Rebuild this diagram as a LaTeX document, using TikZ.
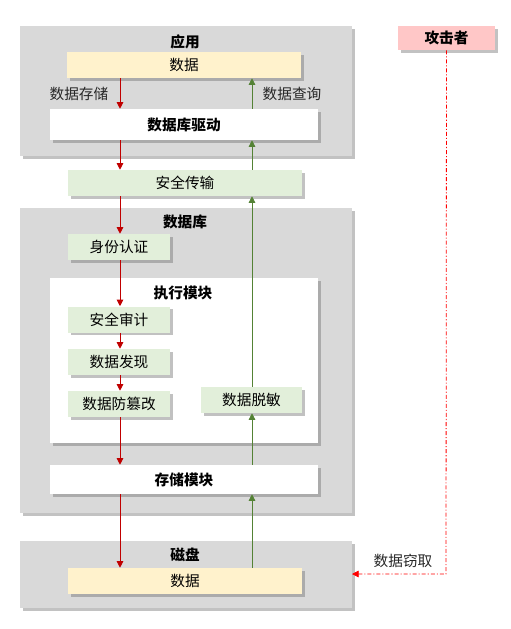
\documentclass[tikz,border=0pt]{standalone}
\usepackage{fontspec}
\setmainfont{Noto Sans CJK SC}
\usetikzlibrary{arrows.meta,shadows}
\definecolor{grp}{HTML}{D9D9D9}
\definecolor{yel}{HTML}{FFF2CC}
\definecolor{grn}{HTML}{E2EFDA}
\definecolor{pnk}{HTML}{FFC7C7}
\definecolor{redln}{HTML}{C00000}
\definecolor{grnln}{HTML}{548235}
\tikzset{
  x=0.75pt, y=-0.75pt,
  shd/.style={drop shadow={shadow xshift=2pt,shadow yshift=-2pt,opacity=0.4,fill=black!60}},
  grpbox/.style={fill=grp,draw=none,shd},
  blk/.style={shd,draw=none,font=\fontsize{11}{13}\selectfont},
  ttl/.style={font=\fontsize{11}{13}\selectfont\bfseries},
  lbl/.style={font=\fontsize{11}{13}\selectfont,text=black!85},
  rarr/.style={draw=redln,line width=0.7pt,-{Triangle[width=5pt,length=5pt]}},
  garr/.style={draw=grnln,line width=0.6pt,-{Triangle[width=5pt,length=5pt]}},
}
\begin{document}
\begin{tikzpicture}
\useasboundingbox (0,0) rectangle (511,629);
% group boxes
\path[grpbox] (20,26) rectangle (352,156);
\path[grpbox] (20,208) rectangle (352,513);
\path[grpbox] (20,541) rectangle (352,608);
\path[fill=white,shd] (50,278) rectangle (318,443);
% titles
\node[ttl] (tapp) at (185,42) {应用};
\node[ttl] (tdb) at (185,222) {数据库};
\node[ttl] (texec) at (183,293) {执行模块};
\node[ttl] (tdisk) at (185,555) {磁盘};
% blocks
\node[blk,fill=yel,minimum width=234*0.75pt,minimum height=26*0.75pt] (data1) at (184,65) {数据};
\node[blk,fill=white,minimum width=268*0.75pt,minimum height=31*0.75pt,font=\fontsize{11}{13}\selectfont\bfseries] (drv) at (184,124.5) {数据库驱动};
\node[blk,fill=grn,minimum width=234*0.75pt,minimum height=26*0.75pt] (sec) at (185,183) {安全传输};
\node[blk,fill=grn,minimum width=102*0.75pt,minimum height=26*0.75pt] (auth) at (119,247) {身份认证};
\node[blk,fill=grn,minimum width=102*0.75pt,minimum height=26*0.75pt] (aud) at (119,319.5) {安全审计};
\node[blk,fill=grn,minimum width=102*0.75pt,minimum height=26*0.75pt] (disc) at (119,362) {数据发现};
\node[blk,fill=grn,minimum width=102*0.75pt,minimum height=26*0.75pt] (tamp) at (119,404) {数据防篡改};
\node[blk,fill=grn,minimum width=101*0.75pt,minimum height=26*0.75pt] (mask) at (251.5,400) {数据脱敏};
\node[blk,fill=white,minimum width=268*0.75pt,minimum height=29*0.75pt,font=\fontsize{11}{13}\selectfont\bfseries] (stor) at (184,479.5) {存储模块};
\node[blk,fill=yel,minimum width=234*0.75pt,minimum height=26*0.75pt] (data2) at (185,581) {数据};
\node[blk,fill=pnk,minimum width=97*0.75pt,minimum height=24*0.75pt,font=\fontsize{11}{13}\selectfont\bfseries] (atk) at (446.5,38) {攻击者};
% labels
\node[lbl] (lstore) at (79,94) {数据存储};
\node[lbl] (lquery) at (292,94) {数据查询};
\node[lbl] (lsteal) at (403,561) {数据窃取};
% red path
\draw[rarr] (data1.south -| 120,0) -- (drv.north -| 120,0);
\draw[rarr] (drv.south -| 120,0) -- (sec.north -| 120,0);
\draw[rarr] (sec.south -| 120,0) -- (auth.north -| 120,0);
\draw[rarr] (auth.south -| 120,0) -- (aud.north -| 120,0);
\draw[rarr] (aud.south -| 120,0) -- (disc.north -| 120,0);
\draw[rarr] (disc.south -| 120,0) -- (tamp.north -| 120,0);
\draw[rarr] (tamp.south -| 120,0) -- (stor.north -| 120,0);
\draw[rarr] (stor.south -| 120,0) -- (data2.north -| 120,0);
% green path
\draw[garr] (data2.north -| 252,0) -- (stor.south -| 252,0);
\draw[garr] (stor.north -| 252,0) -- (mask.south -| 252,0);
\draw[garr] (mask.north -| 252,0) -- (sec.south -| 252,0);
\draw[garr] (sec.north -| 252,0) -- (drv.south -| 252,0);
\draw[garr] (drv.north -| 252,0) -- (data1.south -| 252,0);
% attacker
\coordinate (turn) at (446,574);
\coordinate (diskE) at (352,574);
\draw[red,line width=0.6pt,dash pattern=on 3pt off 1.5pt on 0.8pt off 1.5pt,-{Triangle[width=5pt,length=5pt]}] (atk.south) -- (turn) -- (diskE);
\end{tikzpicture}
\end{document}
